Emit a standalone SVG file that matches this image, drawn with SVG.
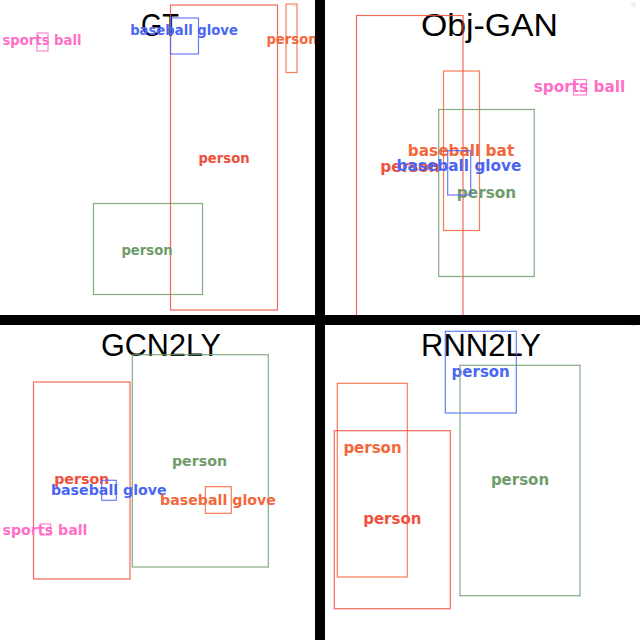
<svg xmlns="http://www.w3.org/2000/svg" width="640" height="640" viewBox="0 0 640 640">
<style>
.t{font-family:"Liberation Sans","DejaVu Sans",sans-serif;font-size:32px;fill:#000}
.l{font-family:"DejaVu Sans","Noto Sans",sans-serif;font-weight:bold;text-anchor:middle}
.b{fill:none;stroke-width:1.2;stroke-opacity:0.85}
.red{fill:#f0503c}.redb{stroke:#f0503c}
.or{fill:#f4673a}.orb{stroke:#f4673a}
.bl{fill:#4a66f4}.blb{stroke:#4a66f4}
.gr{fill:#6f9c6a}.grb{stroke:#6f9c6a}
.pk{fill:#ff6ec7}.pkb{stroke:#ff6ec7}
.s1{font-size:13.2px}.s2{font-size:15.3px}.s3{font-size:14.2px}.s4{font-size:15px}
.tiny{fill:none;stroke:#dddddd;stroke-width:0.8}
</style>
<rect x="0" y="0" width="640" height="640" fill="#ffffff"/>

<!-- GT panel -->
<g id="gt">
<text class="t" x="141" y="36" textLength="38" lengthAdjust="spacingAndGlyphs">GT</text>
<g id="gt-person-red"><rect class="b redb" x="170.5" y="5" width="107" height="305"/><text class="l red s1" x="224" y="163">person</text></g>
<g id="gt-glove"><rect class="b blb" x="170.5" y="18" width="28" height="36"/><text class="l bl s1" x="184" y="35">baseball glove</text></g>
<g id="gt-ball"><rect class="b pkb" x="37" y="33" width="11" height="18"/><text class="l pk s1" x="42" y="44.5">sports ball</text></g>
<g id="gt-person-orange"><rect class="b orb" x="286" y="4" width="11" height="68.5"/><text class="l or s1" x="292" y="44">person</text></g>
<g id="gt-person-green"><rect class="b grb" x="93.5" y="203.5" width="109" height="91"/><text class="l gr s1" x="147" y="254.5">person</text></g>
<rect class="tiny" x="292" y="3" width="3" height="3"/>
</g>

<!-- Obj-GAN panel -->
<g id="objgan">
<text class="t" x="421" y="36" textLength="137" lengthAdjust="spacingAndGlyphs">Obj-GAN</text>
<g id="og-person-red"><rect class="b redb" x="356.5" y="15.5" width="106.5" height="305"/><text class="l red s2" x="410" y="172">person</text></g>
<g id="og-bat"><rect class="b orb" x="443.5" y="71" width="36" height="159.5"/><text class="l or s2" x="461" y="155.7">baseball bat</text></g>
<g id="og-person-green"><rect class="b grb" x="438.7" y="109.5" width="95.5" height="167"/><text class="l gr s2" x="486.5" y="197.7">person</text></g>
<g id="og-glove"><rect class="b blb" x="447.7" y="150.7" width="23" height="44.3"/><text class="l bl s2" x="459" y="170.7">baseball glove</text></g>
<g id="og-ball"><rect class="b pkb" x="573.5" y="79.5" width="13" height="15.5"/><text class="l pk s2" x="579.5" y="92">sports ball</text></g>
<rect class="tiny" x="632" y="3" width="3" height="3"/>
</g>

<!-- GCN2LY panel -->
<g id="gcn2ly">
<text class="t" x="101" y="356" textLength="120" lengthAdjust="spacingAndGlyphs">GCN2LY</text>
<g id="gc-person-red"><rect class="b redb" x="33.5" y="382" width="96.5" height="197"/><text class="l red s3" x="81.7" y="484.3">person</text></g>
<g id="gc-person-green"><rect class="b grb" x="132.3" y="354.7" width="136" height="212.3"/><text class="l gr s3" x="199.5" y="466">person</text></g>
<g id="gc-glove-blue"><rect class="b blb" x="101.7" y="480.3" width="14.6" height="20"/><text class="l bl s3" x="108.8" y="495">baseball glove</text></g>
<g id="gc-glove-orange"><rect class="b orb" x="205.3" y="486.7" width="26" height="26.6"/><text class="l or s3" x="218" y="505">baseball glove</text></g>
<g id="gc-ball"><rect class="b pkb" x="40.3" y="524" width="10.4" height="11"/><text class="l pk s3" x="45" y="534.7">sports ball</text></g>
</g>

<!-- RNN2LY panel -->
<g id="rnn2ly">
<text class="t" x="421" y="356" textLength="120" lengthAdjust="spacingAndGlyphs">RNN2LY</text>
<g id="rn-person-blue"><rect class="b blb" x="445.3" y="331.3" width="71" height="81.7"/><text class="l bl s4" x="480.7" y="377.3">person</text></g>
<g id="rn-person-green"><rect class="b grb" x="460" y="365.3" width="120" height="230.4"/><text class="l gr s4" x="520" y="485.3">person</text></g>
<g id="rn-person-orange"><rect class="b orb" x="337.3" y="383.3" width="70" height="193.7"/><text class="l or s4" x="372.5" y="453.3">person</text></g>
<g id="rn-person-red"><rect class="b redb" x="334.3" y="430.7" width="116" height="178"/><text class="l red s4" x="392.3" y="524.3">person</text></g>
<rect class="tiny" x="632" y="323" width="3" height="3"/>
</g>

<!-- separators -->
<g id="separators" fill="#000000">
<rect x="315" y="0" width="10" height="640"/>
<rect x="0" y="315" width="640" height="10"/>
</g>
</svg>
